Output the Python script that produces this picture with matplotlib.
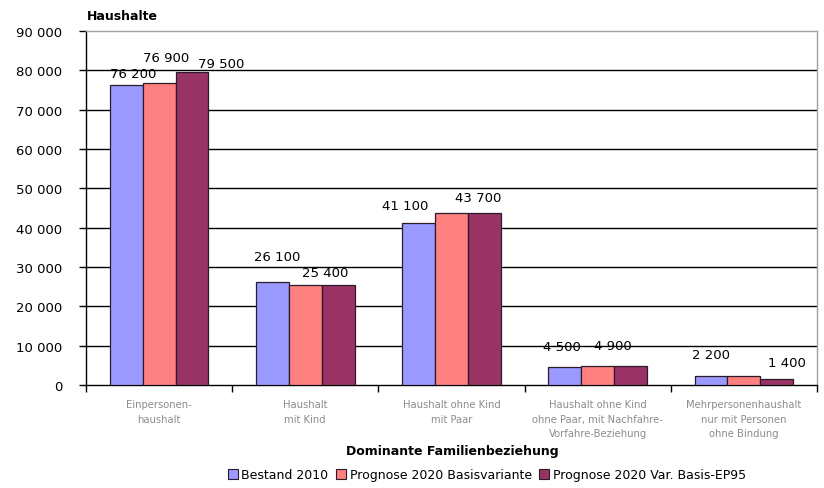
import numpy as np
import matplotlib.pyplot as plt
from matplotlib.patches import Patch

# Data
categories = [
    "Einpersonen-\nhaushalt",
    "Haushalt\nmit Kind",
    "Haushalt ohne Kind\nmit Paar",
    "Haushalt ohne Kind\nohne Paar, mit Nachfahre-\nVorfahre-Beziehung",
    "Mehrpersonenhaushalt\nnur mit Personen\nohne Bindung",
]
series_names = ["Bestand 2010", "Prognose 2020 Basisvariante", "Prognose 2020 Var. Basis-EP95"]
bestand_2010 = [76200, 26100, 41100, 4500, 2200]
prognose_basis = [76900, 25400, 43700, 4900, 2200]
prognose_ep95 = [79500, 25400, 43700, 4900, 1400]
yticks = np.arange(0, 90001, 10000)

colors = ["#9999FF", "#FF8080", "#993366"]
values = [bestand_2010, prognose_basis, prognose_ep95]

# label placement (category, series, dx in bar widths, dy in pixels above bar top)
label_pos = [
    (0, 0, 0.2, 12), (0, 1, 0.2, 25), (0, 2, 0.9, 9),
    (1, 0, 0.15, 26), (1, 1, 0.6, 13),
    (2, 0, -0.4, 18), (2, 1, 0.8, 16),
    (3, 0, -0.1, 21), (3, 1, 0.45, 20),
    (4, 0, 0.0, 22), (4, 2, 0.3, 17),
]

def fmt(v):
    return f"{v:,}".replace(",", " ")

fig = plt.figure(figsize=(8.24, 4.89), dpi=100)
ax = fig.add_axes([86 / 824, 1 - 386 / 489, (817 - 86) / 824, (386 - 32) / 489])

x = np.arange(len(categories))
w = 0.225
for i, (vals, col) in enumerate(zip(values, colors)):
    ax.bar(x + (i - 1) * w, vals, w, color=col, edgecolor="#2a1a2a", linewidth=0.9, zorder=3)

for c, s, dx, dy in label_pos:
    v = values[s][c]
    ax.annotate(fmt(v), (x[c] + (s - 1 + dx) * w, v), xytext=(0, dy),
                textcoords="offset pixels", ha="center", va="center",
                fontsize=9.5, zorder=4)

ax.set_xlim(-0.5, len(categories) - 0.5)
ax.set_ylim(0, 90000)
ax.set_yticks(yticks)
ax.set_yticklabels([fmt(v) for v in yticks], fontsize=9.5)
for yv in yticks[1:-1]:
    ax.axhline(yv, color="black", linewidth=1.0, zorder=1)

ax.set_xticks(x)
ax.set_xticklabels(categories, fontsize=7.2, color="#8c8c8c", linespacing=1.6)
ax.set_xticks(np.arange(-0.5, len(categories)), minor=True)
ax.tick_params(axis="x", which="major", length=0, pad=10)
ax.tick_params(axis="x", which="minor", length=5, direction="out", width=1)
ax.tick_params(axis="y", length=5, direction="out", width=1, pad=12)

ax.spines["left"].set_color("black")
ax.spines["bottom"].set_color("black")
ax.spines["top"].set_color("#a0a0a0")
ax.spines["right"].set_color("#a0a0a0")
for sp in ax.spines.values():
    sp.set_linewidth(1.0)

fig.text(87 / 824, 1 - 17 / 489, "Haushalte", fontsize=9, fontweight="bold", va="center", ha="left")
fig.text(452 / 824, 1 - 452 / 489, "Dominante Familienbeziehung", fontsize=9, fontweight="bold",
         va="center", ha="center")

handles = [Patch(facecolor=c, edgecolor="#2a1a2a", linewidth=0.8) for c in colors]
fig.legend(handles, series_names, loc="center", bbox_to_anchor=(487 / 824, 1 - 476 / 489),
           ncol=3, frameon=False, fontsize=9, handlelength=0.8, handleheight=0.8,
           handletextpad=0.3, columnspacing=0.6)

fig.savefig("out.png", dpi=100)
